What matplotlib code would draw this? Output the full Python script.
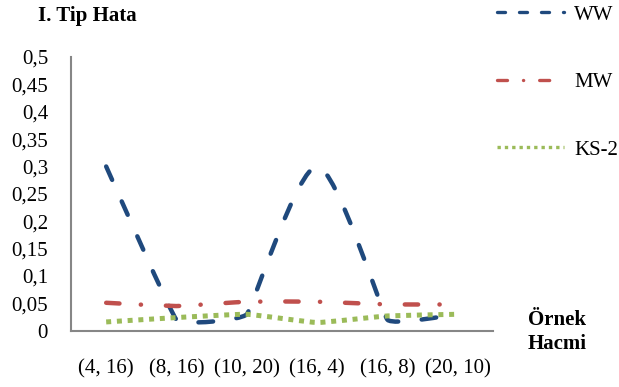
import numpy as np
import matplotlib
matplotlib.use("Agg")
import matplotlib.pyplot as plt
from matplotlib.path import Path
from matplotlib.patches import PathPatch
from matplotlib.lines import Line2D

# data
categories = ["(4, 16)", "(8, 16)", "(10, 20)", "(16, 4)", "(16, 8)", "(20, 10)"]
ww = [0.30, 0.02, 0.03, 0.30, 0.02, 0.03]
mw = [0.051, 0.045, 0.053, 0.053, 0.048, 0.048]
ks2 = [0.016, 0.024, 0.030, 0.015, 0.027, 0.030]
yticks = [0, 0.05, 0.1, 0.15, 0.2, 0.25, 0.3, 0.35, 0.4, 0.45, 0.5]
ytick_labels = ["0", "0,05", "0,1", "0,15", "0,2", "0,25", "0,3", "0,35", "0,4", "0,45", "0,5"]

WW_COLOR = "#1F497D"
MW_COLOR = "#C0504D"
KS_COLOR = "#9BBB59"
AXIS_GREY = "#868686"

plt.rcParams["font.family"] = ["Liberation Serif", "DejaVu Serif"]


def smooth_path(ax, xs, ys, tension=0.12):
    """Excel-like smoothed line. Control points are worked out in pixel space,
    with handle length tied to the shorter neighbouring segment."""
    to_px = ax.transData
    pts = to_px.transform(np.column_stack([xs, ys]).astype(float))
    n = len(pts)
    dirs = []
    for i in range(n):
        a = pts[max(i - 1, 0)]
        b = pts[min(i + 1, n - 1)]
        d = b - a
        dirs.append(d / np.hypot(*d))
    seg = [np.hypot(*(pts[i + 1] - pts[i])) for i in range(n - 1)]
    verts = [pts[0]]
    codes = [Path.MOVETO]
    for i in range(n - 1):
        l1 = min(seg[i], seg[i - 1]) if i > 0 else seg[i]
        l2 = min(seg[i], seg[i + 1]) if i + 1 < n - 1 else seg[i]
        c1 = pts[i] + dirs[i] * l1 * tension
        c2 = pts[i + 1] - dirs[i + 1] * l2 * tension
        verts += [c1, c2, pts[i + 1]]
        codes += [Path.CURVE4] * 3
    verts = to_px.inverted().transform(np.array(verts))
    return Path(verts, codes)


fig = plt.figure(figsize=(6.19, 3.87), dpi=100)
ax = fig.add_axes([71 / 619, 56.3 / 387, 422 / 619, 273.7 / 387])

x = np.arange(len(categories))
ax.set_xlim(-0.5, len(categories) - 0.5)
ax.set_ylim(0, 0.5)

series = [
    ("WW", ww, WW_COLOR, 3.2, (0, (3.3, 5.3)), "round", (0, (2.4, 4.2))),
    ("MW", mw, MW_COLOR, 3.2, (0, (3.0, 4.8, 0.05, 5.6)), "round", (0, (3.0, 4.8, 0.05, 4.8))),
    ("KS-2", ks2, KS_COLOR, 3.6, (0, (1.0, 1.15)), "butt", (0, (1.0, 1.2))),
]

handles = []
for name, vals, color, lw, ls, cap, leg_ls in series:
    patch = PathPatch(smooth_path(ax, x, vals), fill=False, edgecolor=color,
                      linewidth=lw, linestyle=ls, capstyle=cap, zorder=3)
    ax.add_patch(patch)
    handles.append(Line2D([], [], color=color, linewidth=2.4, linestyle=leg_ls,
                          dash_capstyle=cap, label=name))

ax.set_xticks(x)
ax.set_xticklabels(categories)
ax.set_yticks(yticks)
ax.set_yticklabels(ytick_labels)
ax.tick_params(axis="both", length=0, labelsize=15)
ax.tick_params(axis="y", pad=16.5)
ax.tick_params(axis="x", pad=20.5)

for side in ["top", "right"]:
    ax.spines[side].set_visible(False)
for side in ["left", "bottom"]:
    ax.spines[side].set_color(AXIS_GREY)
    ax.spines[side].set_linewidth(1.5)

fig.text(38 / 619, 1 - 16 / 387, "I. Tip Hata", fontsize=15, fontweight="bold",
         ha="left", va="center")
fig.text(528 / 619, 1 - 332 / 387, "Örnek\nHacmi", fontsize=15, fontweight="bold",
         ha="left", va="center", linespacing=1.25)

fig.legend(handles=handles, loc="upper left", bbox_to_anchor=(497 / 619, 1 - 5 / 387),
           frameon=False, fontsize=15, borderpad=0, borderaxespad=0,
           handlelength=3.2, handletextpad=0.5, labelspacing=2.3)

fig.savefig("out.png", dpi=100)
